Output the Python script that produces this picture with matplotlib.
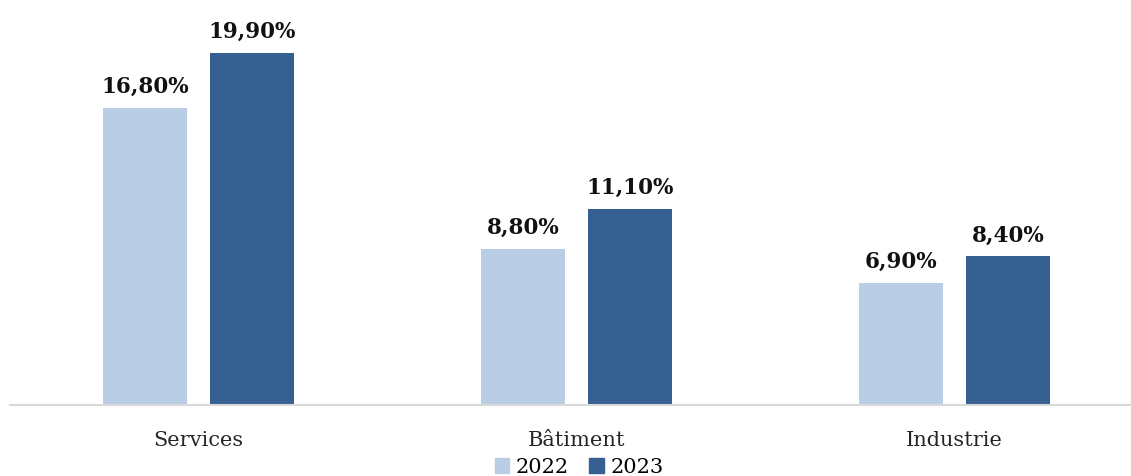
import numpy as np
from matplotlib import pyplot as plt
from matplotlib.patches import Patch

categories = ['Services', 'Bâtiment', 'Industrie']
years = ['2022', '2023']
values_2022 = [16.8, 8.8, 6.9]
values_2023 = [19.9, 11.1, 8.4]

colors = ['#B9CDE5', '#366092']

plt.rcParams['font.family'] = ['DejaVu Serif']

fig = plt.figure(figsize=(11.31, 4.77), dpi=100)
ax = fig.add_axes([10 / 1131, 71 / 477, 1121 / 1131, 406 / 477])

x = np.arange(len(categories))
width = 0.222
offset = 0.1415
series = [values_2022, values_2023]
for i, (vals, col) in enumerate(zip(series, colors)):
    pos = x + (offset if i else -offset)
    bars = ax.bar(pos, vals, width, color=col, label=years[i])
    for b, v in zip(bars, vals):
        ax.annotate(f'{v:.2f}%'.replace('.', ','), (b.get_x() + b.get_width() / 2, v),
                    xytext=(0, 8), textcoords='offset points', ha='center', va='bottom',
                    fontsize=15.5, fontweight='bold', color='#111111')

ax.set_xlim(-0.499, 2.467)
ax.set_ylim(0, 22.96)
ax.set_yticks([])
ax.set_xticks(x)
ax.set_xticklabels(categories, fontsize=15, color='#262626')
ax.tick_params(axis='x', length=0, pad=18)
for s in ['top', 'right', 'left']:
    ax.spines[s].set_visible(False)
ax.spines['bottom'].set_color('#D9D9D9')
ax.spines['bottom'].set_linewidth(1.5)

handles = [Patch(color=c, label=y) for c, y in zip(colors, years)]
fig.legend(handles=handles, loc='center', bbox_to_anchor=(579 / 1131, 1 - 468 / 477), ncol=2,
           frameon=False, fontsize=15, handlelength=0.7, handleheight=0.7,
           handletextpad=0.3, columnspacing=1.0)

fig.savefig('out.png', dpi=100)
